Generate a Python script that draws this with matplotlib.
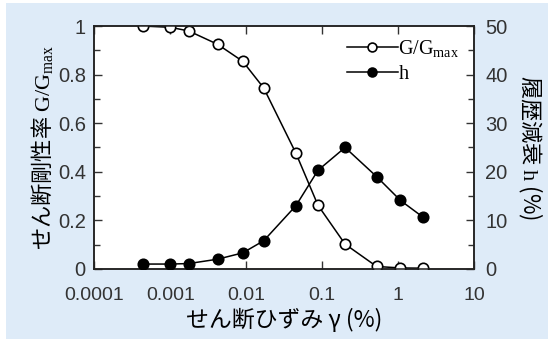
import matplotlib
matplotlib.use('Agg')
import matplotlib.pyplot as plt
from matplotlib.patches import Rectangle
from matplotlib.ticker import FixedLocator, NullLocator

# strain (%) and measured values
gamma = [0.00044, 0.001, 0.00175, 0.0042, 0.009, 0.017, 0.045, 0.088, 0.2, 0.52, 1.07, 2.1]
g_ratio = [1.0, 0.995, 0.98, 0.925, 0.855, 0.745, 0.477, 0.262, 0.102, 0.01, 0.004, 0.003]
h_damp = [1.0, 1.0, 1.1, 2.0, 3.3, 5.8, 13.0, 20.3, 25.0, 19.0, 14.1, 10.7]

x_ticks = [0.0001, 0.001, 0.01, 0.1, 1, 10]
x_labels = ['0.0001', '0.001', '0.01', '0.1', '1', '10']

plt.rcParams['font.family'] = ['Liberation Sans', 'Noto Sans CJK JP', 'DejaVu Sans']
plt.rcParams['mathtext.fontset'] = 'custom'
plt.rcParams['mathtext.rm'] = 'Liberation Serif'
plt.rcParams['mathtext.it'] = 'Liberation Serif:italic'

bg = '#deebf8'
jp = ['Noto Sans CJK JP', 'DejaVu Sans']

fig = plt.figure(figsize=(5.54, 3.43), dpi=100, facecolor='white')
fig.patches.append(Rectangle((6 / 554, 4 / 343), 542 / 554, 336 / 343,
                             transform=fig.transFigure, facecolor=bg, edgecolor='none', zorder=-10))

ax = fig.add_axes([0.170, 0.216, 0.686, 0.708])
ax.set_facecolor('white')
ax2 = ax.twinx()

l1, = ax.plot(gamma, g_ratio, '-o', color='black', mfc='white', mec='black',
              ms=7.5, mew=1.2, lw=1.1, label=r'$\mathrm{G/G_{max}}$', zorder=3)
l2, = ax2.plot(gamma, h_damp, '-o', color='black', mfc='black', mec='black',
               ms=7.5, mew=1.2, lw=1.1, label=r'$\mathrm{h}$', zorder=3)

ax.set_xscale('log')
ax.set_xlim(0.0001, 10)
ax.set_ylim(0, 1)
ax2.set_ylim(0, 50)
ax.xaxis.set_major_locator(FixedLocator(x_ticks))
ax.xaxis.set_minor_locator(NullLocator())
ax.set_xticklabels(x_labels)
ax.set_yticks([0, 0.2, 0.4, 0.6, 0.8, 1])
ax.set_yticklabels(['0', '0.2', '0.4', '0.6', '0.8', '1'])
ax.set_yticks([0.1, 0.3, 0.5, 0.7, 0.9], minor=True)
ax2.set_yticks([0, 10, 20, 30, 40, 50])
ax2.set_yticks([5, 15, 25, 35, 45], minor=True)

ax.tick_params(axis='x', which='major', direction='in', top=True, length=6, width=1,
               labelsize=14, pad=13, colors='#333333')
ax.tick_params(axis='y', which='both', direction='in', labelsize=14.5, width=1,
               pad=6, colors='#333333')
ax.tick_params(axis='y', which='major', length=6)
ax.tick_params(axis='y', which='minor', length=4)
ax2.tick_params(axis='y', which='both', direction='in', labelsize=14.5, width=1,
                pad=8, colors='#333333')
ax2.tick_params(axis='y', which='major', length=6)
ax2.tick_params(axis='y', which='minor', length=4)
for a in (ax, ax2):
    for s in a.spines.values():
        s.set_linewidth(1.1)
        s.set_color('#222222')

ax.set_xlabel('せん断ひずみ γ (%)', fontsize=16.5, family=jp, labelpad=3)
ax.set_ylabel(r'せん断剛性率 $\mathrm{G/G_{max}}$', fontsize=16, family=jp, labelpad=2)
ax2.set_ylabel(r'履歴減衰 $\mathrm{h}$ (%)', fontsize=16, family=jp, rotation=-90, labelpad=26)

leg = ax.legend(handles=[l1, l2], loc='upper left', bbox_to_anchor=(0.666, 0.95),
                frameon=False, fontsize=14.5, handlelength=2.5, handletextpad=0.0,
                labelspacing=0.25, borderpad=0.0, borderaxespad=0.0, markerscale=0.85)

fig.savefig('out.png', dpi=100, facecolor='white')
